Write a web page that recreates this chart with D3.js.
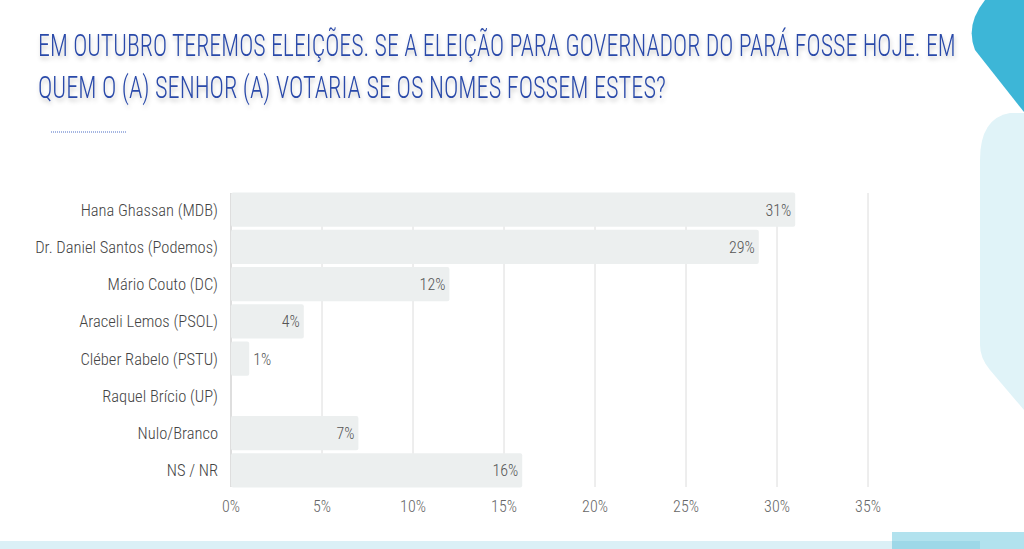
<!DOCTYPE html>
<html><head><meta charset="utf-8">
<script src="https://cdn.jsdelivr.net/npm/d3@7"></script>
<style>
html,body{margin:0;padding:0;background:#fff;overflow:hidden}
svg{display:block}
.cf{font-family:"Roboto Condensed","Roboto","DejaVu Sans Condensed",sans-serif;font-weight:300}
</style></head>
<body>
<svg id="c" width="1024" height="549"></svg>
<script>
const titleLines = ["EM OUTUBRO TEREMOS ELEIÇÕES. SE A ELEIÇÃO PARA GOVERNADOR DO PARÁ FOSSE HOJE. EM",
                    "QUEM O (A) SENHOR (A) VOTARIA SE OS NOMES FOSSEM ESTES?"];
const categories = ["Hana Ghassan (MDB)","Dr. Daniel Santos (Podemos)","Mário Couto (DC)","Araceli Lemos (PSOL)",
                    "Cléber Rabelo (PSTU)","Raquel Brício (UP)","Nulo/Branco","NS / NR"];
const values = [31, 29, 12, 4, 1, 0, 7, 16];
const tickValues = [0, 5, 10, 15, 20, 25, 30, 35];

const svg = d3.select("#c");
const defs = svg.append("defs");
const f = defs.append("filter").attr("id","sh").attr("filterUnits","userSpaceOnUse")
  .attr("x",0).attr("y",0).attr("width",1024).attr("height",160);
f.append("feDropShadow").attr("dx",1).attr("dy",3).attr("stdDeviation",2).attr("flood-color","#000").attr("flood-opacity",0.22);

// decorations
svg.append("path").attr("d","M1024,0 L985,0 Q965,25 975,50 L1024,112 Z").attr("fill","#3db6d7");
svg.append("path").attr("d","M1024,113 L1010,113 Q980,118 980,160 L980,345 Q980,358 990,370 L1024,410 Z").attr("fill","#e0f3f8");
svg.append("rect").attr("x",0).attr("y",541).attr("width",1000).attr("height",8).attr("fill","#dbf0f6");
svg.append("rect").attr("x",892).attr("y",532).attr("width",132).attr("height",17).attr("fill","#b2e2ee");
svg.append("rect").attr("x",892).attr("y",541).attr("width",88).attr("height",8).attr("fill","#9ed8e8");

// title
const tl = [[38,56,918],[38,98,628]];
svg.append("g").attr("filter","url(#sh)")
  .selectAll("text.title").data(titleLines).join("text")
  .attr("class","title cf")
  .attr("x",0).attr("y",0)
  .attr("font-size",31).attr("fill","#2a4aa9")
  .text(d=>d)
  .each(function(d,i){
    const w = this.getComputedTextLength();
    const sx = tl[i][2] / w;
    d3.select(this).attr("transform",`translate(${tl[i][0]},${tl[i][1]}) scale(${sx},1)`);
  });
svg.append("line").attr("x1",51).attr("x2",127).attr("y1",132).attr("y2",132)
  .attr("stroke","#4a6cc4").attr("stroke-width",1).attr("stroke-dasharray","1,1");

// chart
const x = d3.scaleLinear().domain([0,35]).range([231,868]);
const y = d3.scaleBand().domain(categories).range([191,489]).paddingInner(0.08).paddingOuter(0.04);

const g = svg.append("g");
g.selectAll("line.grid").data(tickValues).join("line")
  .attr("x1",d=>x(d)).attr("x2",d=>x(d)).attr("y1",193).attr("y2",487)
  .attr("stroke",(d)=>d===0?"#bdbdbd":"#dcdcdc").attr("stroke-width",1);

g.selectAll("rect.bar").data(values).join("rect")
  .attr("x",x(0)).attr("y",(d,i)=>y(categories[i]))
  .attr("width",d=>x(d)-x(0)).attr("height",y.bandwidth())
  .attr("rx",2).attr("fill","#ecefef");

g.selectAll("text.val").data(values).join("text")
  .attr("class","cf")
  .attr("x",d=> (x(d)-x(0) > 40) ? x(d)-4 : x(d)+4)
  .attr("text-anchor",d=> (x(d)-x(0) > 40) ? "end" : "start")
  .attr("y",(d,i)=>y(categories[i])+y.bandwidth()/2+6)
  .attr("font-size",16).attr("fill","#555")
  .text(d=>d>0? d+"%" : "");

g.selectAll("text.cat").data(categories).join("text")
  .attr("class","cf")
  .attr("x",218).attr("y",d=>y(d)+y.bandwidth()/2+6)
  .attr("text-anchor","end").attr("font-size",16.5).attr("fill","#444")
  .text(d=>d);

g.selectAll("text.tick").data(tickValues).join("text")
  .attr("class","cf")
  .attr("x",d=>x(d)).attr("y",512)
  .attr("text-anchor","middle").attr("font-size",16).attr("fill","#666")
  .text(d=>d+"%");
</script>
</body></html>
